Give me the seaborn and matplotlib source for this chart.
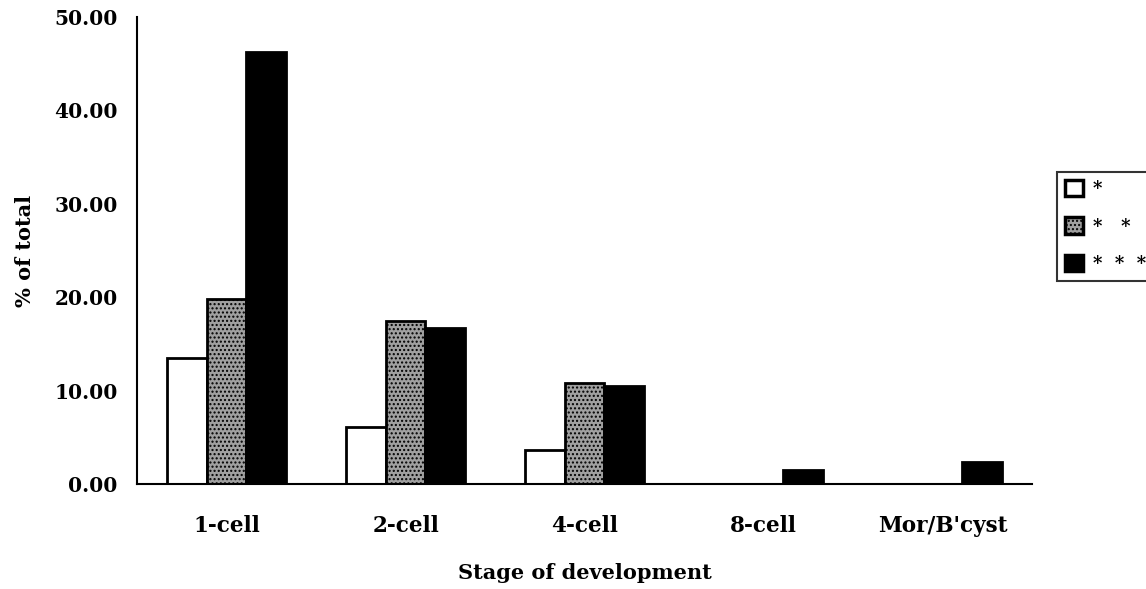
import matplotlib
matplotlib.use("Agg")
import matplotlib.pyplot as plt
import seaborn as sns
import pandas as pd
from matplotlib.ticker import FormatStrFormatter
from matplotlib.patches import Patch

stages = ["1-cell", "2-cell", "4-cell", "8-cell", "Mor/B'cyst"]
series_names = ["*", "*   *", "*  *  *"]
s1 = [13.5, 6.1, 3.6, 0.0, 0.0]
s2 = [19.8, 17.5, 10.8, 0.0, 0.0]
s3 = [46.2, 16.7, 10.5, 1.5, 2.4]

rows = []
for name, vals in zip(series_names, [s1, s2, s3]):
    for st, v in zip(stages, vals):
        rows.append({"stage": st, "series": name, "value": v})
df = pd.DataFrame(rows)

sns.set_style("white")
plt.rcParams["font.family"] = ["DejaVu Serif", "DejaVu Sans"]
plt.rcParams["hatch.linewidth"] = 1.0
plt.rcParams["text.color"] = "black"
plt.rcParams["axes.labelcolor"] = "black"
plt.rcParams["xtick.color"] = "black"
plt.rcParams["ytick.color"] = "black"

fig = plt.figure(figsize=(11.46, 5.89), dpi=100)
ax = fig.add_axes([137/1146, 1-484/589, (1032-137)/1146, (484-17)/589])

palette = {series_names[0]: "white", series_names[1]: "#a0a0a0", series_names[2]: "black"}
sns.barplot(data=df, x="stage", y="value", hue="series", order=stages,
            hue_order=series_names, palette=palette, width=0.67, gap=0,
            edgecolor="black", linewidth=2, saturation=1, ax=ax, legend=False)

for i, cont in enumerate(ax.containers):
    for p in cont.patches:
        if i == 1:
            p.set_hatch("....")
        if p.get_height() == 0:
            p.set_linewidth(0)

ax.set_ylim(0, 50)
ax.set_yticks([0, 10, 20, 30, 40, 50])
ax.yaxis.set_major_formatter(FormatStrFormatter("%.2f"))
ax.set_xlim(-0.5, 4.5)
for s in ["top", "right"]:
    ax.spines[s].set_visible(False)
for s in ["left", "bottom"]:
    ax.spines[s].set_color("black")
    ax.spines[s].set_linewidth(1.5)
ax.tick_params(axis="y", length=0, pad=14, labelcolor="black")
ax.tick_params(axis="x", length=0, pad=22, labelcolor="black")
for lab in ax.get_yticklabels():
    lab.set_fontsize(14.5)
    lab.set_fontweight("bold")
for lab in ax.get_xticklabels():
    lab.set_fontsize(15.5)
    lab.set_fontweight("bold")
ax.set_xlabel("Stage of development", fontsize=15, fontweight="semibold",
              labelpad=19, color="black")
ax.set_ylabel("% of total", fontsize=15, fontweight="bold", labelpad=14,
              color="black")

handles = [
    Patch(facecolor="white", edgecolor="black", linewidth=2.5),
    Patch(facecolor="#a0a0a0", edgecolor="black", linewidth=2.5, hatch="...."),
    Patch(facecolor="black", edgecolor="black", linewidth=2.5),
]
leg = fig.legend(handles, series_names, loc="upper left",
                 bbox_to_anchor=(1057/1146, 1-172/589), borderaxespad=0,
                 frameon=True, fancybox=False, edgecolor="black",
                 prop={"size": 13, "weight": "bold"},
                 handlelength=1.0, handleheight=1.0, labelspacing=1.05,
                 handletextpad=0.55, borderpad=0.45)
leg.get_frame().set_linewidth(1.5)

fig.savefig("out.png", dpi=100)
